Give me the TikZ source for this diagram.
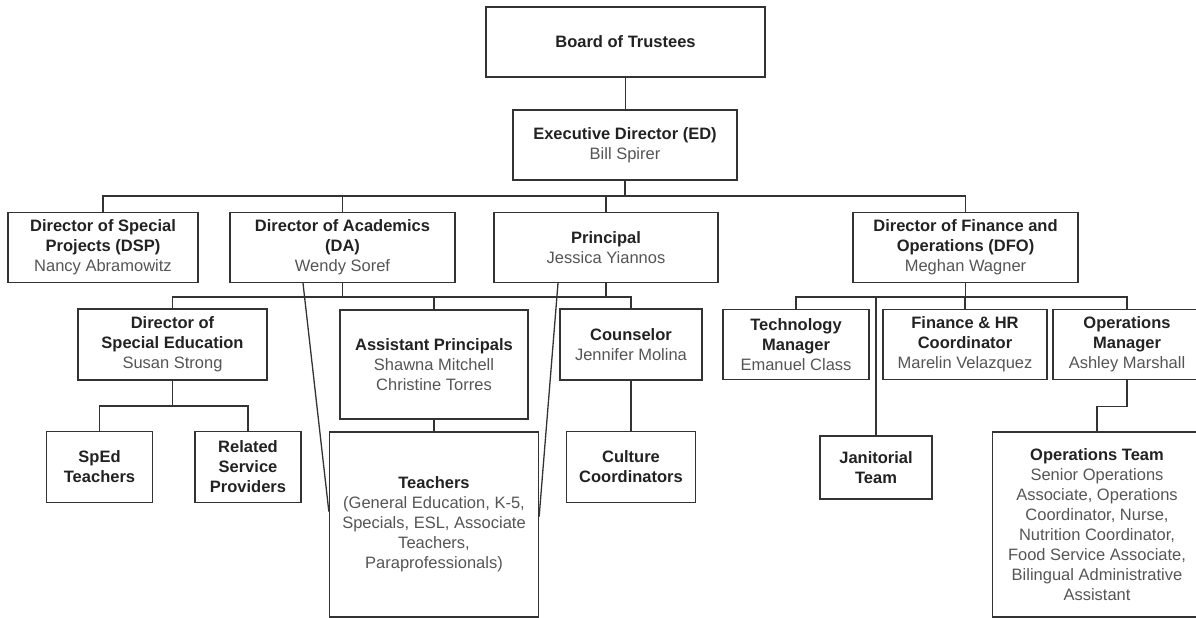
\documentclass[tikz,border=0pt]{standalone}
\usepackage{fontspec}
\setmainfont{Liberation Sans}
\definecolor{linegray}{HTML}{333333}
\definecolor{namegray}{HTML}{555555}
\definecolor{titlegray}{HTML}{222222}
\begin{document}
\begin{tikzpicture}[
  x=1pt, y=-1pt,
  font=\fontsize{16.5}{20}\selectfont,
  box/.style={draw=linegray, line width=1.3pt, text=titlegray, align=center,
    inner sep=0pt, minimum height=70pt},
  tall/.style={box, minimum height=185pt},
  link/.style={draw=linegray, line width=1.3pt}]
\useasboundingbox (0,0) rectangle (1196,618);
\clip (0,0) rectangle (1196,618);
% top
\node[box, minimum width=279pt] (board) at (625.5,42) {\textbf{Board of Trustees}};
\node[box, minimum width=224pt] (ed) at (625,145)
  {\textbf{Executive Director (ED)}\\ \textcolor{namegray}{Bill Spirer}};
% directors
\node[box, minimum width=190pt] (dsp) at (103,247.5)
  {\textbf{Director of Special}\\ \textbf{Projects (DSP)}\\ \textcolor{namegray}{Nancy Abramowitz}};
\node[box, minimum width=225pt] (da) at (342.5,247.5)
  {\textbf{Director of Academics}\\ \textbf{(DA)}\\ \textcolor{namegray}{Wendy Soref}};
\node[box, minimum width=224pt] (prin) at (606,247.5)
  {\textbf{Principal}\\ \textcolor{namegray}{Jessica Yiannos}};
\node[box, minimum width=225pt] (dfo) at (965.5,247.5)
  {\textbf{Director of Finance and}\\ \textbf{Operations (DFO)}\\ \textcolor{namegray}{Meghan Wagner}};
% academics
\node[box, minimum width=189pt, minimum height=71pt] (dsped) at (172.5,344.5)
  {\textbf{Director of}\\ \textbf{Special Education}\\ \textcolor{namegray}{Susan Strong}};
\node[box, minimum width=188pt, minimum height=109pt] (ap) at (434,364.5)
  {\textbf{Assistant Principals}\\ \textcolor{namegray}{Shawna Mitchell}\\ \textcolor{namegray}{Christine Torres}};
\node[box, minimum width=142pt, minimum height=71pt] (coun) at (631,344.5)
  {\textbf{Counselor}\\ \textcolor{namegray}{Jennifer Molina}};
\node[box, minimum width=106pt, minimum height=71pt] (sped) at (99.5,467)
  {\textbf{SpEd}\\ \textbf{Teachers}};
\node[box, minimum width=106pt, minimum height=71pt] (rsp) at (248,467)
  {\textbf{Related}\\ \textbf{Service}\\ \textbf{Providers}};
\node[tall, minimum width=209pt] (teach) at (434,524.5)
  {\textbf{Teachers}\\ \textcolor{namegray}{(General Education, K-5,}\\
   \textcolor{namegray}{Specials, ESL, Associate}\\ \textcolor{namegray}{Teachers,}\\
   \textcolor{namegray}{Paraprofessionals)}};
\node[box, minimum width=129pt, minimum height=71pt] (cult) at (631,467)
  {\textbf{Culture}\\ \textbf{Coordinators}};
% finance and operations
\node[box, minimum width=146pt] (tech) at (796,344.5)
  {\textbf{Technology}\\ \textbf{Manager}\\ \textcolor{namegray}{Emanuel Class}};
\node[box, minimum width=164pt] (fin) at (965,344.5)
  {\textbf{Finance \& HR}\\ \textbf{Coordinator}\\ \textcolor{namegray}{Marelin Velazquez}};
\node[box, minimum width=148pt] (opsm) at (1127,344.5)
  {\textbf{Operations}\\ \textbf{Manager}\\ \textcolor{namegray}{Ashley Marshall}};
\node[box, minimum width=112pt, minimum height=63pt] (jan) at (876,467.5)
  {\textbf{Janitorial}\\ \textbf{Team}};
\node[tall, minimum width=209pt] (opst) at (1097,524.5)
  {\textbf{Operations Team}\\ \textcolor{namegray}{Senior Operations}\\
   \textcolor{namegray}{Associate, Operations}\\ \textcolor{namegray}{Coordinator, Nurse,}\\
   \textcolor{namegray}{Nutrition Coordinator,}\\ \textcolor{namegray}{Food Service Associate,}\\
   \textcolor{namegray}{Bilingual Administrative}\\ \textcolor{namegray}{Assistant}};
% connectors
\coordinate (bus1) at (625,196);
\coordinate (bus2) at (342.5,297);
\coordinate (bus3) at (172.5,406);
\coordinate (bus4) at (965.5,297);
\draw[link] (board.south) -- (board.south |- ed.north);
\draw[link] (ed.south) -- (bus1);
\draw[link] (dsp.north) |- (bus1);
\draw[link] (da.north) |- (bus1);
\draw[link] (prin.north) |- (bus1);
\draw[link] (dfo.north) |- (bus1);
\draw[link] (da.south) -- (bus2);
\draw[link] (dsped.north) |- (bus2);
\draw[link] (ap.north) |- (bus2);
\draw[link] (coun.north) |- (bus2);
\draw[link] (prin.south) |- (bus2);
\draw[link] (ap.south) -- (teach.north);
\draw[link] ([xshift=-39.5pt]da.south) -- ([yshift=13pt]teach.west);
\draw[link] ([xshift=-48pt]prin.south) -- ([yshift=8pt]teach.east);
\draw[link] (dsped.south) -- (bus3);
\draw[link] (sped.north) |- (bus3);
\draw[link] (rsp.north) |- (bus3);
\draw[link] (coun.south) -- (cult.north);
\draw[link] (dfo.south) -- (bus4);
\draw[link] (tech.north) |- (bus4);
\draw[link] (fin.north) |- (bus4);
\draw[link] (opsm.north) |- (bus4);
\draw[link] (jan.north) |- (bus4);
\draw[link] (opsm.south) -- ++(0,26) -| (opst.north);
\end{tikzpicture}
\end{document}
